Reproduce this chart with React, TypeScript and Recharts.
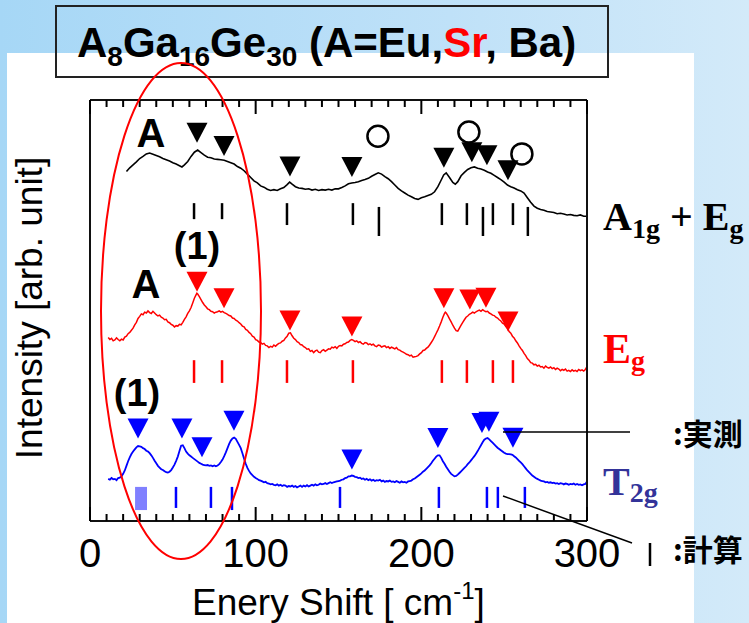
import React from 'react';
import {
  ComposedChart,
  Line,
  Scatter,
  XAxis,
  YAxis,
  ReferenceLine,
  ReferenceArea,
} from 'recharts';

const shiftTicks = [
  0, 10, 20, 30, 40, 50, 60, 70, 80, 90, 100, 110, 120, 130, 140, 150, 160, 170, 180, 190, 200,
  210, 220, 230, 240, 250, 260, 270, 280, 290, 300,
];
const shiftLabels = [0, 100, 200, 300];

// spectra: [shift (cm-1), intensity (arb.)]
const a1gEgSpectrum: [number, number][] = [
  [22, 83.0], [24, 83.9], [26, 84.6], [28, 85.3], [30, 86.1], [32, 86.6], [34, 87.2], [36, 87.4],
  [38, 87.1], [40, 86.8], [42, 86.5], [44, 86.1], [46, 85.8], [48, 85.5], [50, 85.1], [52, 84.8],
  [54, 84.4], [55.5, 84.1], [57, 84.6], [59, 85.4], [61, 86.6], [63, 87.6], [65, 88.1], [67, 87.5],
  [69, 86.9], [71, 86.4], [73, 86.3], [75, 86.0], [77, 85.9], [79, 85.8], [81, 85.7], [83, 85.4],
  [85, 85.1], [87, 84.8], [89, 84.2], [91, 83.8], [93, 83.2], [95, 82.4], [97, 81.6], [99, 80.8],
  [101, 80.3], [103, 79.6], [105, 79.3], [107, 78.8], [109, 78.5], [111, 78.7], [113, 78.5],
  [115, 78.9], [117, 79.2], [119, 79.9], [120.5, 80.5], [122, 80.0], [124, 79.4], [126, 79.1],
  [128, 79.0], [130, 78.8], [132, 78.9], [134, 78.6], [136, 78.8], [138, 78.5], [140, 78.7],
  [142, 78.6], [144, 78.8], [146, 78.6], [148, 78.9], [150, 78.9], [152, 79.2], [154, 79.6],
  [156, 80.1], [158, 80.3], [160, 80.4], [162, 80.6], [164, 80.9], [166, 81.1], [168, 81.4],
  [170, 81.9], [172, 82.3], [174, 82.7], [176, 82.4], [178, 81.8], [180, 81.3], [182, 80.6],
  [184, 79.8], [186, 79.0], [188, 78.4], [190, 77.9], [192, 77.4], [194, 77.0], [196, 76.6],
  [198, 76.4], [200, 76.8], [202, 77.0], [204, 77.3], [206, 77.6], [208, 78.2], [210, 79.4],
  [212, 81.0], [213.5, 82.2], [215, 82.7], [217, 81.6], [219, 80.4], [220.5, 80.0], [222, 80.6],
  [224, 82.0], [226, 82.8], [228, 83.5], [230, 83.9], [232, 84.1], [234, 83.8], [236, 83.6],
  [238, 83.3], [240, 82.9], [242, 82.6], [244, 82.1], [246, 81.6], [248, 81.1], [250, 80.5],
  [252, 79.8], [254, 79.4], [256, 79.1], [258, 78.7], [260, 78.4], [262, 77.9], [264, 76.8],
  [266, 75.7], [268, 74.8], [270, 74.3], [272, 74.0], [274, 73.8], [276, 73.5], [278, 73.4],
  [280, 73.3], [282, 73.0], [284, 73.1], [286, 72.9], [288, 72.7], [290, 72.8], [292, 72.6],
  [294, 72.5], [296, 72.7], [298, 72.4], [300, 72.4],
];

const egSpectrum: [number, number][] = [
  [11, 43.6], [12, 43.1], [13, 43.4], [14, 42.8], [15, 43.0], [16, 43.5], [17, 43.1], [18, 42.8],
  [19, 43.2], [20, 43.0], [21, 43.7], [22, 43.9], [23, 44.5], [24, 44.8], [25, 45.3], [26, 45.8],
  [27, 46.6], [28, 47.2], [29, 48.1], [30, 48.6], [31, 49.2], [32, 49.0], [33, 49.6], [34, 49.4],
  [35, 49.9], [36, 49.5], [37, 49.3], [38, 49.8], [39, 49.4], [40, 49.0], [41, 48.7], [42, 48.9],
  [43, 48.4], [44, 48.2], [45, 47.8], [46, 47.9], [47, 47.3], [48, 47.1], [49, 46.7], [50, 46.5],
  [51, 46.1], [52, 46.4], [53, 46.3], [54, 46.7], [55, 46.6], [56, 47.2], [57, 47.9], [58, 48.5],
  [59, 49.3], [60, 49.9], [61, 50.7], [62, 51.8], [63, 52.9], [64, 53.7], [64.5, 54.1], [65, 53.9],
  [66, 53.3], [67, 52.6], [68, 51.9], [69, 51.3], [70, 50.9], [71, 50.4], [72, 50.2], [73, 49.8],
  [74, 49.7], [75, 49.4], [76, 49.6], [77, 49.7], [78, 49.9], [79, 49.6], [80, 49.8], [81, 49.5],
  [82, 49.3], [83, 49.1], [84, 48.8], [85, 48.7], [86, 48.2], [87, 48.1], [88, 47.7], [89, 47.5],
  [90, 47.1], [91, 46.8], [92, 46.3], [93, 46.1], [94, 45.5], [95, 45.3], [96, 44.8], [97, 44.5],
  [98, 43.9], [99, 43.7], [100, 43.1], [101, 42.9], [102, 42.5], [103, 42.4], [104, 42.0],
  [105, 42.2], [106, 41.7], [107, 41.6], [108, 41.2], [109, 41.5], [110, 41.3], [111, 41.8],
  [112, 41.5], [113, 41.9], [114, 42.2], [115, 42.3], [116, 42.7], [117, 42.9], [118, 43.5],
  [119, 43.9], [120, 44.6], [121, 44.7], [122, 44.0], [123, 43.4], [124, 43.1], [125, 42.6],
  [126, 42.4], [127, 41.9], [128, 41.8], [129, 41.4], [130, 41.2], [131, 40.8], [132, 40.9],
  [133, 40.3], [134, 40.5], [135, 40.0], [136, 40.4], [137, 40.6], [138, 40.1], [139, 40.0],
  [140, 40.5], [141, 40.7], [142, 40.3], [143, 40.6], [144, 40.9], [145, 40.8], [146, 41.3],
  [147, 41.1], [148, 41.4], [149, 41.0], [150, 41.5], [151, 41.7], [152, 41.6], [153, 42.0],
  [154, 42.1], [155, 42.4], [156, 42.5], [157, 42.9], [158, 43.1], [159, 42.9], [160, 42.6],
  [161, 42.8], [162, 42.4], [163, 42.6], [164, 42.2], [165, 42.0], [166, 42.4], [167, 42.3],
  [168, 41.9], [169, 42.1], [170, 41.8], [171, 42.0], [172, 41.6], [173, 41.4], [174, 41.8],
  [175, 41.7], [176, 41.3], [177, 41.5], [178, 41.6], [179, 41.2], [180, 41.4], [181, 41.0],
  [182, 41.3], [183, 41.1], [184, 40.9], [185, 41.2], [186, 40.7], [187, 40.6], [188, 40.3],
  [189, 40.1], [190, 39.9], [191, 39.6], [192, 39.5], [193, 39.2], [194, 39.4], [195, 38.9],
  [196, 39.0], [197, 39.1], [198, 39.3], [199, 39.7], [200, 40.0], [201, 40.5], [202, 40.6],
  [203, 41.0], [204, 41.3], [205, 41.8], [206, 42.4], [207, 43.0], [208, 43.8], [209, 44.6],
  [210, 45.4], [211, 46.3], [212, 47.3], [213, 48.4], [214, 49.3], [214.5, 49.6], [215, 49.4],
  [216, 48.8], [217, 48.0], [218, 47.3], [219, 46.5], [220, 45.8], [221, 45.2], [222, 45.1],
  [223, 45.8], [224, 46.5], [225, 47.2], [226, 47.8], [227, 48.4], [228, 48.7], [229, 49.1],
  [230, 49.3], [231, 49.6], [232, 49.4], [233, 49.7], [234, 49.9], [235, 50.1], [236, 49.8],
  [237, 50.2], [238, 49.9], [239, 49.7], [240, 49.8], [241, 49.4], [242, 49.2], [243, 48.9],
  [244, 48.8], [245, 48.4], [246, 48.2], [247, 47.8], [248, 47.5], [249, 47.0], [250, 46.8],
  [251, 46.2], [252, 45.8], [253, 45.0], [254, 44.6], [255, 43.9], [256, 43.5], [257, 42.8],
  [258, 42.3], [259, 41.6], [260, 41.0], [261, 40.5], [262, 39.8], [263, 39.3], [264, 38.6],
  [265, 38.2], [266, 37.6], [267, 37.5], [268, 37.1], [269, 37.2], [270, 36.8], [271, 37.0],
  [272, 36.6], [273, 36.7], [274, 36.3], [275, 36.8], [276, 36.5], [277, 36.3], [278, 36.6],
  [279, 36.2], [280, 36.4], [281, 36.0], [282, 36.3], [283, 36.1], [284, 35.7], [285, 36.0],
  [286, 35.8], [287, 36.1], [288, 35.6], [289, 35.8], [290, 35.5], [291, 35.9], [292, 35.6],
  [293, 35.8], [294, 35.5], [295, 36.0], [296, 35.7], [297, 35.9], [298, 35.6], [299, 36.0],
  [300, 36.7],
];

const t2gSpectrum: [number, number][] = [
  [11, 10.0], [12, 9.8], [13, 10.2], [14, 9.9], [15, 10.0], [16, 9.7], [17, 10.2], [18, 10.3],
  [19, 10.6], [20, 11.2], [21, 12.0], [22, 13.1], [23, 14.2], [24, 15.1], [25, 15.9], [26, 16.5],
  [27, 17.0], [28, 17.5], [29, 17.8], [30, 17.7], [31, 17.6], [32, 17.3], [33, 17.1], [34, 16.7],
  [35, 16.5], [36, 16.1], [37, 15.6], [38, 15.0], [39, 14.3], [40, 13.7], [41, 13.1], [42, 12.7],
  [43, 12.3], [44, 12.1], [45, 11.8], [46, 11.6], [47, 11.5], [48, 11.7], [49, 12.1], [50, 12.7],
  [51, 13.4], [52, 14.3], [53, 15.3], [54, 16.6], [55, 17.9], [56, 18.0], [57, 17.3], [58, 16.5],
  [59, 16.0], [60, 15.6], [61, 15.3], [62, 15.0], [63, 14.7], [64, 14.4], [65, 14.1], [66, 13.8],
  [67, 13.6], [68, 13.4], [69, 13.3], [70, 13.2], [71, 13.3], [72, 13.1], [73, 13.2], [74, 13.0],
  [75, 13.2], [76, 13.0], [77, 13.2], [78, 13.5], [79, 14.0], [80, 14.6], [81, 15.4], [82, 16.3],
  [83, 17.3], [84, 18.3], [85, 19.1], [86, 19.6], [87, 19.8], [88, 19.5], [89, 18.8], [90, 18.1],
  [91, 17.3], [92, 16.1], [93, 14.8], [94, 13.6], [95, 12.6], [96, 11.9], [97, 11.3], [98, 10.9],
  [99, 10.5], [100, 10.2], [101, 10.0], [102, 9.7], [103, 9.6], [104, 9.4], [105, 9.2], [106, 9.3],
  [107, 9.0], [108, 8.9], [109, 8.7], [110, 8.8], [111, 8.6], [112, 8.5], [113, 8.7], [114, 8.4],
  [115, 8.6], [116, 8.3], [117, 8.5], [118, 8.4], [119, 8.1], [120, 8.3], [121, 8.2], [122, 8.4],
  [123, 8.1], [124, 8.3], [125, 8.0], [126, 8.2], [127, 8.4], [128, 8.1], [129, 8.4], [130, 8.2],
  [131, 8.5], [132, 8.2], [133, 8.4], [134, 8.6], [135, 8.4], [136, 8.7], [137, 8.5], [138, 8.6],
  [139, 8.9], [140, 8.7], [141, 8.8], [142, 9.0], [143, 8.8], [144, 9.0], [145, 9.2], [146, 9.0],
  [147, 9.2], [148, 9.3], [149, 9.4], [150, 9.5], [151, 9.6], [152, 9.8], [153, 9.9], [154, 10.2],
  [155, 10.3], [156, 10.6], [157, 10.6], [158, 10.8], [159, 10.7], [160, 10.5], [161, 10.4],
  [162, 10.2], [163, 10.3], [164, 10.0], [165, 10.1], [166, 9.8], [167, 10.0], [168, 9.7],
  [169, 9.9], [170, 9.6], [171, 9.8], [172, 9.5], [173, 9.7], [174, 9.6], [175, 9.8], [176, 9.4],
  [177, 9.6], [178, 9.3], [179, 9.5], [180, 9.4], [181, 9.6], [182, 9.3], [183, 9.4], [184, 9.2],
  [185, 9.5], [186, 9.3], [187, 9.1], [188, 9.4], [189, 9.2], [190, 9.3], [191, 9.1], [192, 9.4],
  [193, 9.5], [194, 9.6], [195, 9.9], [196, 10.1], [197, 10.4], [198, 10.7], [199, 11.0],
  [200, 11.3], [201, 11.7], [202, 12.0], [203, 12.4], [204, 12.8], [205, 13.2], [206, 13.7],
  [207, 14.3], [208, 14.8], [209, 15.3], [210, 15.6], [211, 15.6], [212, 15.0], [213, 14.2],
  [214, 13.6], [215, 12.9], [216, 12.3], [217, 11.7], [218, 11.2], [219, 10.9], [220, 10.6],
  [221, 10.7], [222, 11.0], [223, 11.4], [224, 11.8], [225, 12.2], [226, 12.6], [227, 13.0],
  [228, 13.5], [229, 13.9], [230, 14.4], [231, 14.9], [232, 15.4], [233, 16.0], [234, 16.6],
  [235, 17.3], [236, 18.0], [237, 18.7], [238, 19.3], [239, 19.6], [240, 19.7], [241, 19.4],
  [242, 19.0], [243, 18.6], [244, 18.2], [245, 17.8], [246, 17.4], [247, 17.1], [248, 16.8],
  [249, 16.5], [250, 16.2], [251, 16.0], [252, 15.9], [253, 15.9], [254, 15.8], [255, 15.7],
  [256, 15.4], [257, 15.1], [258, 14.7], [259, 14.3], [260, 13.9], [261, 13.5], [262, 13.0],
  [263, 12.5], [264, 12.0], [265, 11.6], [266, 11.2], [267, 10.8], [268, 10.5], [269, 10.2],
  [270, 10.0], [271, 9.8], [272, 9.6], [273, 9.5], [274, 9.4], [275, 9.2], [276, 9.3], [277, 9.1],
  [278, 9.2], [279, 9.0], [280, 9.1], [281, 8.9], [282, 9.0], [283, 8.8], [284, 9.0], [285, 8.9],
  [286, 8.7], [287, 8.9], [288, 8.8], [289, 8.6], [290, 8.8], [291, 8.7], [292, 8.9], [293, 8.6],
  [294, 8.8], [295, 8.6], [296, 8.7], [297, 8.5], [298, 8.7], [299, 8.8], [300, 9.4],
];

// observed peaks (triangle markers): [shift, intensity]
const a1gEgPeaks: [number, number][] = [
  [64.6, 92.2], [80.9, 89.1], [120.7, 84.2], [158.1, 84.1], [213.6, 86.3], [230.5, 87.6],
  [239.6, 86.9], [252.3, 83.3],
];
const a1gEgOpen: [number, number][] = [[173.8, 91.4], [228.7, 92.4], [260.7, 87.2]];
const egPeaks: [number, number][] = [
  [64.6, 56.8], [80.9, 52.9], [120.7, 47.6], [158.1, 46.2], [213.6, 52.9], [229.3, 52.6],
  [239.0, 53.0], [252.3, 47.4],
];
const t2gPeaks: [number, number][] = [
  [29.0, 22.0], [55.5, 22.0], [67.6, 17.5], [86.9, 23.8], [158.1, 14.6], [210.0, 19.7],
  [236.6, 23.3], [240.8, 23.6], [255.3, 19.8],
];

// calculated modes: [shift, low, high]
const a1gEgCalc: [number, number, number][] = [
  [62.8, 71.7, 75.5], [79.7, 71.7, 75.5], [118.9, 70.3, 75.5], [158.7, 70.3, 75.5],
  [174.4, 67.7, 74.6], [212.4, 70.3, 75.5], [227.5, 70.3, 75.5], [237.2, 67.7, 74.6],
  [243.2, 70.3, 75.5], [255.3, 70.3, 75.5], [264.3, 67.7, 74.6],
];
const egCalc: [number, number, number][] = [
  [62.8, 32.8, 38.2], [79.7, 32.8, 38.2], [118.9, 32.8, 38.2], [158.7, 32.8, 38.2],
  [212.4, 32.8, 38.2], [227.5, 32.8, 38.2], [243.2, 32.8, 38.2], [255.3, 32.8, 38.2],
];
const t2gCalc: [number, number, number][] = [
  [51.9, 3.1, 8.1], [73.0, 3.1, 8.1], [85.7, 2.6, 8.1], [150.9, 3.1, 8.1], [210.6, 3.1, 8.1],
  [239.6, 3.1, 8.1], [246.2, 3.1, 8.1], [262.5, 3.1, 8.1],
];
const t2gCalcBand = { x1: 27.2, x2: 34.4, y1: 2.6, y2: 8.1 };

const SANS = 'Liberation Sans, Arial, sans-serif';
const SERIF = 'Liberation Serif, Times New Roman, serif';
const CJK = 'Noto Sans CJK JP, sans-serif';

const toPoints = (arr: [number, number][]) => arr.map(([x, y]) => ({ x, y }));

function BottomTick(props: any) {
  const { x, y, payload } = props;
  const major = payload.value % 100 === 0;
  return (
    <g>
      <line x1={x} x2={x} y1={y} y2={y - (major ? 14 : 7)} stroke="#000" strokeWidth={2} />
      {shiftLabels.includes(payload.value) && (
        <text x={x} y={y + 46} textAnchor="middle" fontSize={40} fontFamily={SANS} fill="#000">
          {payload.value}
        </text>
      )}
    </g>
  );
}

function TopTick(props: any) {
  const { x, y, payload } = props;
  const major = payload.value % 100 === 0;
  return <line x1={x} x2={x} y1={y} y2={y + (major ? 14 : 7)} stroke="#000" strokeWidth={2} />;
}

const triangle = (color: string) => (p: any) => (
  <polygon
    points={`${p.cx - 10.5},${p.cy - 10} ${p.cx + 10.5},${p.cy - 10} ${p.cx},${p.cy + 10}`}
    fill={color}
  />
);

const openCircle = (p: any) => (
  <circle cx={p.cx} cy={p.cy} r={10.5} fill="none" stroke="#000" strokeWidth={2.5} />
);

export default function App() {
  const calcLines = (rows: [number, number, number][], color: string, key: string) =>
    rows.map(([x, lo, hi], i) => (
      <ReferenceLine
        key={`${key}${i}`}
        xAxisId="b"
        yAxisId="l"
        segment={[{ x, y: lo }, { x, y: hi }]}
        stroke={color}
        strokeWidth={2.5}
      />
    ));

  return (
    <div
      style={{
        position: 'absolute',
        left: 0,
        top: 0,
        width: 749,
        height: 623,
        overflow: 'hidden',
        background: 'linear-gradient(to right, #a6d7f6 0%, #bfe1f8 60%, #d3eaf9 100%)',
      }}
    >
      <div
        style={{ position: 'absolute', left: 7, top: 53, width: 687, height: 570, background: '#fff' }}
      />
      <div style={{ position: 'absolute', left: 0, top: 0 }}>
        <ComposedChart width={749} height={623} margin={{ top: 70, right: 132, bottom: 72, left: 60 }}>
          <XAxis
            xAxisId="b"
            dataKey="x"
            type="number"
            domain={[0, 300]}
            ticks={shiftTicks}
            interval={0}
            allowDataOverflow
            height={30}
            tickSize={0}
            tickMargin={0}
            tickLine={false}
            tick={<BottomTick />}
            axisLine={{ stroke: '#111', strokeWidth: 2 }}
          />
          <XAxis
            xAxisId="t"
            orientation="top"
            dataKey="x"
            type="number"
            domain={[0, 300]}
            ticks={shiftTicks}
            interval={0}
            allowDataOverflow
            height={30}
            tickSize={0}
            tickMargin={0}
            tickLine={false}
            tick={<TopTick />}
            axisLine={{ stroke: '#111', strokeWidth: 2 }}
          />
          <YAxis
            yAxisId="l"
            dataKey="y"
            type="number"
            domain={[0, 100]}
            allowDataOverflow
            width={30}
            tick={false}
            tickLine={false}
            axisLine={{ stroke: '#111', strokeWidth: 2 }}
          />
          <YAxis
            yAxisId="r"
            orientation="right"
            type="number"
            domain={[0, 100]}
            width={30}
            tick={false}
            tickLine={false}
            axisLine={{ stroke: '#111', strokeWidth: 2 }}
          />

          <ReferenceArea
            xAxisId="b"
            yAxisId="l"
            x1={t2gCalcBand.x1}
            x2={t2gCalcBand.x2}
            y1={t2gCalcBand.y1}
            y2={t2gCalcBand.y2}
            fill="#8080ff"
            fillOpacity={1}
            stroke="none"
          />
          {calcLines(a1gEgCalc, '#000', 'k')}
          {calcLines(egCalc, '#ff0000', 'r')}
          {calcLines(t2gCalc, '#0000ff', 'b')}

          <Line
            xAxisId="b"
            yAxisId="l"
            data={toPoints(a1gEgSpectrum)}
            dataKey="y"
            type="linear"
            stroke="#000"
            strokeWidth={1.6}
            dot={false}
            isAnimationActive={false}
          />
          <Line
            xAxisId="b"
            yAxisId="l"
            data={toPoints(egSpectrum)}
            dataKey="y"
            type="linear"
            stroke="#ff0000"
            strokeWidth={1.5}
            dot={false}
            isAnimationActive={false}
          />
          <Line
            xAxisId="b"
            yAxisId="l"
            data={toPoints(t2gSpectrum)}
            dataKey="y"
            type="linear"
            stroke="#0000ff"
            strokeWidth={1.8}
            dot={false}
            isAnimationActive={false}
          />

          <Scatter xAxisId="b" yAxisId="l" data={toPoints(a1gEgPeaks)} shape={triangle('#000')} isAnimationActive={false} />
          <Scatter xAxisId="b" yAxisId="l" data={toPoints(a1gEgOpen)} shape={openCircle} isAnimationActive={false} />
          <Scatter xAxisId="b" yAxisId="l" data={toPoints(egPeaks)} shape={triangle('#ff0000')} isAnimationActive={false} />
          <Scatter xAxisId="b" yAxisId="l" data={toPoints(t2gPeaks)} shape={triangle('#0000ff')} isAnimationActive={false} />
        </ComposedChart>
      </div>

      <svg
        width={749}
        height={623}
        style={{ position: 'absolute', left: 0, top: 0, pointerEvents: 'none' }}
      >
        {/* title */}
        <rect x={56} y={6} width={552} height={71} fill="none" stroke="#222" strokeWidth={2} />
        <text x={77} y={57} fontSize={42} fontWeight="bold" fontFamily={SANS} fill="#000">
          A<tspan fontSize={28} dy={9}>8</tspan>
          <tspan dy={-9}>Ga</tspan>
          <tspan fontSize={28} dy={9}>16</tspan>
          <tspan dy={-9}>Ge</tspan>
          <tspan fontSize={28} dy={9}>30</tspan>
          <tspan dy={-9}> (A=Eu,</tspan>
          <tspan fill="#ff0000">Sr</tspan>
          <tspan>, Ba)</tspan>
        </text>

        {/* axis titles */}
        <text
          x={42}
          y={308}
          transform="rotate(-90 42 308)"
          textAnchor="middle"
          fontSize={37}
          fontFamily={SANS}
          fill="#000"
        >
          Intensity [arb. unit]
        </text>
        <text x={192} y={615} fontSize={37} fontFamily={SANS} fill="#000">
          Enery Shift [ cm<tspan fontSize={24} dy={-16}>-1</tspan>
          <tspan dy={16}>]</tspan>
        </text>

        {/* annotations */}
        <text x={151} y={147} textAnchor="middle" fontSize={40} fontWeight="bold" fontFamily={SANS}>A</text>
        <text x={146} y={298} textAnchor="middle" fontSize={40} fontWeight="bold" fontFamily={SANS}>A</text>
        <text x={197} y={259} textAnchor="middle" fontSize={38} fontWeight="bold" fontFamily={SANS}>(1)</text>
        <text x={137} y={406} textAnchor="middle" fontSize={38} fontWeight="bold" fontFamily={SANS}>(1)</text>

        {/* symmetry labels */}
        <text x={603} y={230} fontSize={40} fontWeight="bold" fontFamily={SERIF} fill="#000">
          A<tspan fontSize={28} dy={8}>1g</tspan>
          <tspan dy={-8}> + E</tspan>
          <tspan fontSize={28} dy={8}>g</tspan>
        </text>
        <text x={603} y={363} fontSize={42} fontWeight="bold" fontFamily={SERIF} fill="#ff0000">
          E<tspan fontSize={28} dy={7}>g</tspan>
        </text>
        <text x={603} y={495} fontSize={40} fontWeight="bold" fontFamily={SERIF} fill="#333399">
          T<tspan fontSize={28} dy={7}>2g</tspan>
        </text>

        {/* legend for observed / calculated */}
        <line x1={503} y1={432} x2={630} y2={432} stroke="#000" strokeWidth={1.5} />
        <text x={673} y={445} fontSize={30} fontWeight="bold" fontFamily={CJK} fill="#000">:実測</text>
        <line x1={503} y1={496} x2={632} y2={543} stroke="#000" strokeWidth={1.5} />
        <line x1={650} y1={543} x2={650} y2={566} stroke="#000" strokeWidth={2.5} />
        <text x={673} y={561} fontSize={30} fontWeight="bold" fontFamily={CJK} fill="#000">:計算</text>

        {/* highlighted region */}
        <ellipse cx={181} cy={311} rx={80} ry={248} fill="none" stroke="#ff0000" strokeWidth={2} />
      </svg>
    </div>
  );
}
